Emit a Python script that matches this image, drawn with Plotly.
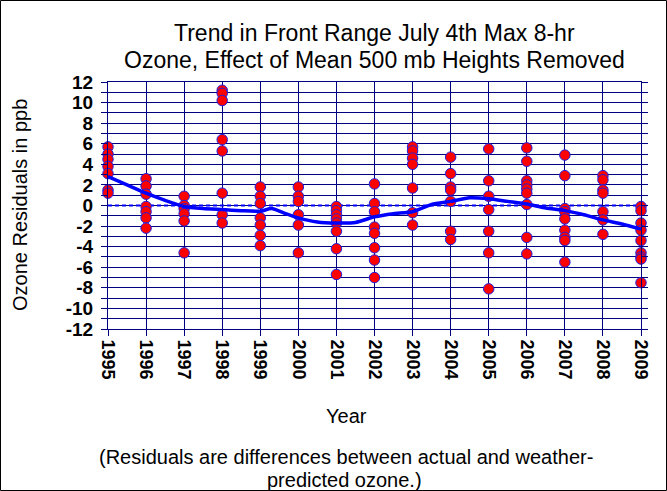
import plotly.graph_objects as go

# Residual ozone (ppb) per year, July 4th max 8-hr, 500 mb height effect removed
years = [1995, 1996, 1997, 1998, 1999, 2000, 2001, 2002, 2003, 2004, 2005, 2006, 2007, 2008, 2009]
residuals = {
    1995: [5.7, 5.0, 4.5, 3.8, 3.1, 1.5, 1.2],
    1996: [2.6, 1.9, 1.1, -0.1, -0.6, -1.2, -2.2],
    1997: [0.9, 0.0, -0.3, -0.8, -1.5, -4.6],
    1998: [11.2, 10.9, 10.2, 6.4, 5.3, 1.2, -0.9, -1.7],
    1999: [1.8, 0.9, 0.2, -1.2, -1.9, -2.9, -3.9],
    2000: [1.8, 0.9, 0.4, -0.9, -1.9, -4.6],
    2001: [-0.1, -0.5, -0.9, -1.3, -1.7, -2.5, -4.2, -6.7],
    2002: [2.1, 0.2, -0.6, -2.1, -2.7, -4.1, -5.3, -7.0],
    2003: [5.7, 5.3, 4.6, 4.0, 1.7, -0.7, -1.9],
    2004: [4.7, 3.1, 1.8, 1.5, 0.4, -2.5, -3.3],
    2005: [5.5, 2.4, 0.9, -0.4, -2.5, -4.6, -8.1],
    2006: [5.6, 4.3, 2.4, 2.0, 1.6, 1.2, 0.1, -3.1, -4.7],
    2007: [4.9, 2.9, -0.3, -0.6, -1.3, -2.4, -3.1, -3.4, -5.5],
    2008: [2.9, 2.5, 1.5, 1.2, -0.6, -1.4, -2.8],
    2009: [-0.1, -0.5, -1.7, -2.4, -3.4, -4.6, -5.0, -5.2, -7.5],
}

# Smoothed trend through the residuals
trend_x = [1995, 1995.5, 1996, 1996.5, 1997, 1997.5, 1998, 1998.5, 1999, 1999.3, 1999.6,
           2000, 2000.5, 2001, 2001.5, 2002, 2002.5, 2003, 2003.5, 2004, 2004.5, 2005,
           2005.5, 2006, 2006.5, 2007, 2007.5, 2008, 2008.5, 2009]
trend_y = [2.8, 2.0, 1.2, 0.5, -0.1, -0.3, -0.4, -0.5, -0.55, -0.3, -0.7,
           -1.2, -1.6, -1.7, -1.65, -1.1, -0.8, -0.6, 0.1, 0.4, 0.75, 0.65,
           0.4, 0.15, -0.25, -0.5, -0.9, -1.4, -1.8, -2.3]

y_tick_vals = [12, 10, 8, 6, 4, 2, 0, -2, -4, -6, -8, -10, -12]
y_tick_text = ["12", "10", "8", "6", "4", "2", "0", "-2", "-4", "-6", "-8", "-10", "-12"]
x_tick_text = [str(y) for y in years]

W, H = 667, 491
L, R, T, B = 108, 26, 82, 162
PW, PH = W - L - R, H - T - B
FONT = "Liberation Sans, Arial, sans-serif"
NAVY = "#000080"


def px(xp):
    return (xp - L) / PW


def py(yp):
    return (H - B - yp) / PH


pts_x, pts_y = [], []
for yr in years:
    for v in residuals[yr]:
        pts_x.append(yr)
        pts_y.append(v)

fig = go.Figure()
fig.add_trace(go.Scatter(
    x=pts_x, y=pts_y, mode="markers", cliponaxis=False,
    marker=dict(size=10.5, color="#ff0000", line=dict(color="#2020e0", width=1)),
    showlegend=False, hoverinfo="x+y",
))
fig.add_trace(go.Scatter(
    x=trend_x, y=trend_y, mode="lines", cliponaxis=False,
    line=dict(color="#0000ff", width=3.5, shape="spline", smoothing=0.6),
    showlegend=False, hoverinfo="skip",
))

# zero reference
fig.add_shape(type="line", xref="x", yref="y", x0=1995, x1=2009, y0=0, y1=0,
              line=dict(color="#0000ff", width=2, dash="4px,3px"), layer="between")
# frame around the whole figure
fig.add_shape(type="rect", xref="paper", yref="paper",
              x0=px(0.5), x1=px(W - 0.5), y0=py(H - 0.5), y1=py(0.5),
              line=dict(color="black", width=1), fillcolor="rgba(0,0,0,0)")

annots = [
    dict(text="Trend in Front Range July 4th Max 8-hr", x=px(374.5), y=py(33), size=23),
    dict(text="Ozone, Effect of Mean 500 mb Heights Removed", x=px(374.5), y=py(60), size=23),
    dict(text="Year", x=px(346), y=py(416), size=20),
    dict(text="(Residuals are differences between actual and weather-", x=px(345.5), y=py(457), size=20),
    dict(text="predicted ozone.)", x=px(344), y=py(480), size=20),
]
for a in annots:
    fig.add_annotation(text=a["text"], x=a["x"], y=a["y"], xref="paper", yref="paper",
                       xanchor="center", yanchor="middle", showarrow=False,
                       font=dict(family=FONT, size=a["size"], color="black"))
fig.add_annotation(text="Ozone Residuals in ppb", x=px(20), y=py(205), xref="paper", yref="paper",
                   xanchor="center", yanchor="middle", showarrow=False, textangle=-90,
                   font=dict(family=FONT, size=20, color="black"))

fig.update_layout(
    width=W, height=H,
    margin=dict(l=L, r=R, t=T, b=B, pad=0),
    paper_bgcolor="white", plot_bgcolor="white",
    font=dict(family=FONT, color="black"),
    xaxis=dict(
        range=[1995, 2009], tickmode="array", tickvals=years, ticktext=x_tick_text,
        tickangle=90, ticks="outside", ticklen=6, tickcolor=NAVY,
        showgrid=True, gridcolor=NAVY, gridwidth=1,
        showline=True, linecolor=NAVY, mirror=True, zeroline=False,
        tickfont=dict(family=FONT, size=18, color="black", weight="bold"),
    ),
    yaxis=dict(
        range=[-12, 12], tickmode="array", tickvals=y_tick_vals, ticktext=y_tick_text,
        ticks="outside", ticklen=6, tickcolor=NAVY, ticklabelstandoff=4,
        showgrid=True, gridcolor=NAVY, gridwidth=1,
        showline=True, linecolor=NAVY, mirror="ticks", zeroline=False,
        minor=dict(dtick=1, tick0=0, ticks="outside", ticklen=6, tickcolor=NAVY,
                   showgrid=True, gridcolor=NAVY, gridwidth=1),
        tickfont=dict(family=FONT, size=19, color="black", weight="bold"),
    ),
)

fig.write_html("out.html")
